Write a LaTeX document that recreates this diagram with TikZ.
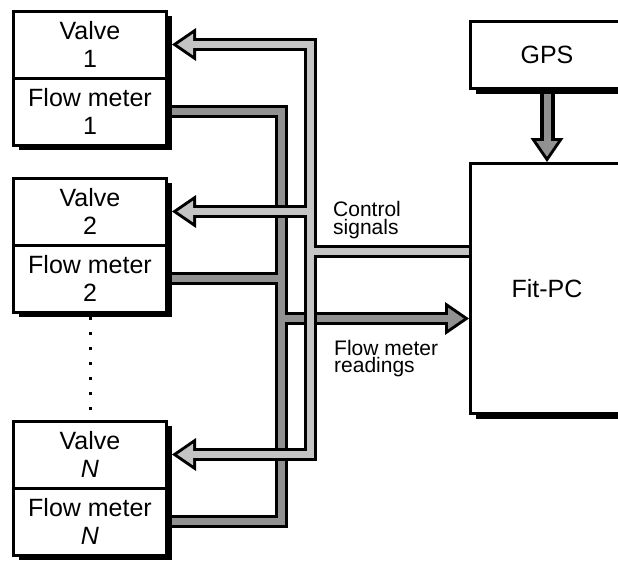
\documentclass[tikz,border=0pt]{standalone}
\usepackage{fontspec}
\setmainfont{Liberation Sans}
\usepackage{tikz}
\usetikzlibrary{positioning,shadows,backgrounds,calc}

\definecolor{ctrlgray}{gray}{0.77}
\definecolor{flowgray}{gray}{0.57}

\begin{document}
\begin{tikzpicture}[
    x=1pt, y=-1pt,
    node distance=33pt,
    box/.style={rectangle, draw=black, fill=white, line width=3pt, outer sep=0pt, inner sep=0pt, align=center, minimum width=153pt, minimum height=67pt, font=\fontsize{25}{28}\selectfont, drop shadow={shadow xshift=5pt, shadow yshift=-5pt, fill=black, opacity=1}},
    sigtext/.style={inner sep=0pt, align=left, font=\fontsize{21}{17.5}\selectfont},
    pipeout/.style={line width=13pt, draw=black, line join=miter},
    ctrlpipe/.style={line width=7pt, draw=ctrlgray, line join=miter},
    flowpipe/.style={line width=7pt, draw=flowgray, line join=miter},
    headout/.style={draw=black, fill=black, line width=6pt, line join=miter},
    dots/.style={line width=3pt, dash pattern=on 3pt off 12pt}
]
\useasboundingbox (0,0) rectangle (618,560);

\node[box, anchor=north west] (v1) at (13.5,11) {Valve\\1};
\node[box, below=0pt of v1] (f1) {Flow meter\\1};
\node[box, below=of f1] (v2) {Valve\\2};
\node[box, below=0pt of v2] (f2) {Flow meter\\2};
\node[box, below=109pt of f2] (vN) {Valve\\\textit{N}};
\node[box, below=0pt of vN] (fN) {Flow meter\\\textit{N}};

\node[box, anchor=north west] (gps) at (470.5,21.5) {GPS};
\node[box, below=75pt of gps, minimum height=250pt] (pc) {Fit-PC};

\node[sigtext, anchor=north west] (ctl) at (333,201.5) {Control\\signals};
\node[sigtext, anchor=north west] (rdg) at (334,340) {Flow meter\\readings};

\draw[dots] ([yshift=-5pt]f2.south) -- ([yshift=11pt]vN.north);

\coordinate (cbus) at (310,0);
\coordinate (fbus) at (281,0);
\coordinate (cin) at ([yshift=37pt]pc.west);
\coordinate (fout) at ([yshift=-30pt]pc.west);

\begin{scope}[on background layer]
\draw[pipeout] (f1.east) -- (fbus |- f1.east) -- (fbus |- fN.east) -- (fN.east);
\draw[pipeout] (f2.east) -- (fbus |- f2.east);
\draw[pipeout, shorten >=23pt] (fbus |- fout) -- (fout);
\filldraw[headout] ([xshift=-6.8pt]fout) -- ++(-15.7,10.8) -- ++(0,-21.6) -- cycle;
\draw[flowpipe] (f1.east) -- (fbus |- f1.east) -- (fbus |- fN.east) -- (fN.east);
\draw[flowpipe] (f2.east) -- (fbus |- f2.east);
\draw[flowpipe, shorten >=20pt] (fbus |- fout) -- (fout);
\fill[flowgray] ([xshift=-6.8pt]fout) -- ++(-15.7,10.8) -- ++(0,-21.6) -- cycle;

\draw[pipeout, shorten <=26pt, shorten >=26pt] (v1.east) -- (cbus |- v1.east) -- (cbus |- vN.east) -- (vN.east);
\draw[pipeout, shorten >=26pt] (cbus |- v2.east) -- (v2.east);
\draw[pipeout] (cin) -- (cbus |- cin);
\foreach \n in {v1,v2,vN}
  \filldraw[headout] ([xshift=10.8pt]\n.east) -- ++(15.7,10.8) -- ++(0,-21.6) -- cycle;
\draw[ctrlpipe, shorten <=23pt, shorten >=23pt] (v1.east) -- (cbus |- v1.east) -- (cbus |- vN.east) -- (vN.east);
\draw[ctrlpipe, shorten >=23pt] (cbus |- v2.east) -- (v2.east);
\draw[ctrlpipe] (cin) -- (cbus |- cin);
\foreach \n in {v1,v2,vN}
  \fill[ctrlgray] ([xshift=10.8pt]\n.east) -- ++(15.7,10.8) -- ++(0,-21.6) -- cycle;

\draw[pipeout, line width=15pt, shorten >=22pt] (gps.south) -- (pc.north);
\filldraw[headout] ([yshift=6.8pt]pc.north) -- ++(10.8,-15.7) -- ++(-21.6,0) -- cycle;
\draw[flowpipe, shorten >=19pt] (gps.south) -- (pc.north);
\fill[flowgray] ([yshift=6.8pt]pc.north) -- ++(10.8,-15.7) -- ++(-21.6,0) -- cycle;
\end{scope}
\end{tikzpicture}
\end{document}
